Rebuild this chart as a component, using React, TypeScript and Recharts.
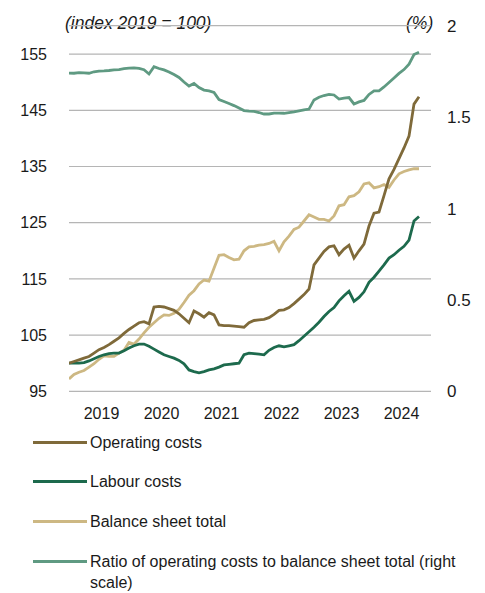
import React from "react";
import { LineChart, Line, XAxis, YAxis, CartesianGrid } from "recharts";

const yearLabels = ["2019", "2020", "2021", "2022", "2023", "2024"];
const leftTicks = [95, 105, 115, 125, 135, 145, 155];
const rightTicks = [0, 0.5, 1, 1.5, 2];

const operatingCosts = [
  100.0, 100.3, 100.6, 100.9, 101.2, 101.8, 102.4, 102.8, 103.3, 103.9,
  104.5, 105.3, 106.0, 106.6, 107.2, 107.4, 107.0, 110.0, 110.1, 110.0,
  109.7, 109.4, 108.8, 108.0, 107.2, 109.3, 108.8, 108.2, 109.0, 108.6,
  106.8, 106.7, 106.7, 106.6, 106.5, 106.4, 107.2, 107.6, 107.7, 107.8,
  108.1, 108.7, 109.4, 109.5, 109.9, 110.6, 111.4, 112.2, 113.2, 117.5,
  118.7, 119.9, 120.7, 120.9, 119.3, 120.3, 121.0, 118.7, 120.0, 121.2,
  124.4, 126.7, 126.9, 129.8, 132.8, 134.5, 136.4, 138.3, 140.4, 146.1,
  147.4,
];

const labourCosts = [
  100.0, 100.0, 100.0, 100.1, 100.4, 100.8, 101.2, 101.5, 101.7, 101.8,
  101.8, 102.2, 102.7, 103.1, 103.4, 103.4, 103.0, 102.5, 102.0, 101.5,
  101.2, 100.9, 100.5, 99.9, 98.8, 98.5, 98.3, 98.5, 98.8, 99.0,
  99.3, 99.7, 99.8, 99.9, 100.0, 101.5, 101.8, 101.7, 101.6, 101.5,
  102.3, 102.8, 103.1, 102.9, 103.1, 103.3, 104.0, 104.8, 105.6, 106.4,
  107.3, 108.3, 109.2, 109.9, 111.1, 112.0, 112.8, 111.0, 111.7, 112.7,
  114.4, 115.3, 116.4, 117.5, 118.7, 119.3, 120.1, 120.8, 121.9, 125.3,
  126.1,
];

const balanceSheetTotal = [
  97.2, 98.0, 98.4, 98.7, 99.3, 99.9, 100.7, 101.3, 101.2, 101.2,
  101.8, 102.3, 103.7, 103.4, 104.3, 105.4, 106.4, 107.2, 108.0, 108.6,
  108.5, 108.9, 109.6, 110.8, 112.1, 112.9, 114.1, 114.8, 114.6, 116.9,
  119.2, 119.3, 118.8, 118.4, 118.5, 120.0, 120.7, 120.8, 121.0, 121.1,
  121.3, 121.7, 120.0, 121.6, 122.6, 123.8, 124.2, 125.3, 126.4, 126.0,
  125.6, 125.6, 125.3, 126.2, 128.0, 128.2, 129.6, 129.8, 130.5, 131.9,
  132.1, 131.2, 131.4, 131.8, 131.3, 132.6, 133.7, 134.1, 134.4, 134.6,
  134.6,
];

const ratioRight = [
  1.741, 1.740, 1.743, 1.742, 1.740, 1.748, 1.752, 1.753, 1.755, 1.758,
  1.760, 1.765, 1.768, 1.769, 1.766, 1.759, 1.736, 1.776, 1.766, 1.758,
  1.747, 1.733, 1.717, 1.692, 1.670, 1.684, 1.662, 1.648, 1.643, 1.635,
  1.596, 1.585, 1.574, 1.563, 1.550, 1.536, 1.533, 1.531, 1.525, 1.517,
  1.517, 1.522, 1.522, 1.521, 1.525, 1.528, 1.534, 1.540, 1.544, 1.594,
  1.609, 1.618, 1.624, 1.621, 1.599, 1.604, 1.607, 1.572, 1.583, 1.591,
  1.624, 1.644, 1.644, 1.665, 1.689, 1.714, 1.739, 1.760, 1.790, 1.842,
  1.855,
];

const series = [
  { key: "op", name: "Operating costs", color: "#7f6a3a", values: operatingCosts, axis: "left" },
  { key: "lab", name: "Labour costs", color: "#1d6a4d", values: labourCosts, axis: "left" },
  { key: "bal", name: "Balance sheet total", color: "#cdb883", values: balanceSheetTotal, axis: "left" },
  { key: "ratio", name: "Ratio of operating costs to balance sheet total (right scale)", color: "#5f9a82", values: ratioRight, axis: "right" },
];

const data = operatingCosts.map((_, i) => {
  const row: any = { t: i };
  series.forEach((s) => (row[s.key] = s.values[i]));
  return row;
});

const yearTickPos = yearLabels.map((_, k) => 6.5 + 12 * k);

const FONT = "'Liberation Sans', Arial, sans-serif";
const TEXT = "#1a1a1a";
const tickStyle = { fontSize: 16, fill: TEXT, fontFamily: FONT };

export default function App() {
  const legendTops = [432, 471, 511, 551];
  return (
    <div style={{ position: "absolute", left: 0, top: 0, width: 485, height: 593, background: "#fff", fontFamily: FONT, color: TEXT }}>
      <div style={{ position: "absolute", left: 65, top: 13, fontSize: 17.5, fontStyle: "italic", lineHeight: "20px", whiteSpace: "nowrap" }}>
        (index 2019 = 100)
      </div>
      <div style={{ position: "absolute", left: 406, top: 13, fontSize: 17.5, fontStyle: "italic", lineHeight: "20px", whiteSpace: "nowrap" }}>
        (%)
      </div>
      <div style={{ position: "absolute", left: 0, top: 0 }}>
        <LineChart
          width={485}
          height={430}
          data={data}
          margin={{ top: 25.7, right: 0, bottom: 8.7, left: 0 }}
        >
          <CartesianGrid yAxisId="left" horizontal={true} vertical={false} stroke="#b5b5b5" strokeWidth={1.2} />
          <XAxis
            dataKey="t"
            type="number"
            domain={[0, 72.4]}
            allowDataOverflow
            ticks={yearTickPos}
            tickFormatter={(v: number) => yearLabels[Math.round((v - 6.5) / 12)]}
            axisLine={false}
            tickLine={false}
            tickSize={0}
            tickMargin={16}
            height={30}
            tick={tickStyle}
            interval={0}
          />
          <YAxis
            yAxisId="left"
            orientation="left"
            domain={[95, 160.05]}
            allowDataOverflow
            ticks={leftTicks}
            axisLine={false}
            tickLine={false}
            tickSize={0}
            tickMargin={22}
            width={69}
            tick={tickStyle}
            interval={0}
          />
          <YAxis
            yAxisId="right"
            orientation="right"
            domain={[0, 2]}
            allowDataOverflow
            ticks={rightTicks}
            axisLine={false}
            tickLine={false}
            tickSize={0}
            tickMargin={16}
            width={54}
            tick={{ ...tickStyle, fontSize: 17, textAnchor: "start" }}
            interval={0}
          />
          {series.slice().reverse().map((s) => (
            <Line
              key={s.key}
              yAxisId={s.axis}
              type="linear"
              dataKey={s.key}
              name={s.name}
              stroke={s.color}
              strokeWidth={2.8}
              dot={false}
              activeDot={false}
              isAnimationActive={false}
            />
          ))}
        </LineChart>
      </div>
      {series.map((s, i) => (
        <div key={s.key} style={{ position: "absolute", left: 33, top: legendTops[i], width: 440 }}>
          <div style={{ position: "absolute", left: 0, top: 9, width: 54, height: 3, background: s.color }} />
          <div style={{ position: "absolute", left: 57, top: 0, width: 380, fontSize: 16, lineHeight: "21px" }}>
            {s.name}
          </div>
        </div>
      ))}
    </div>
  );
}
